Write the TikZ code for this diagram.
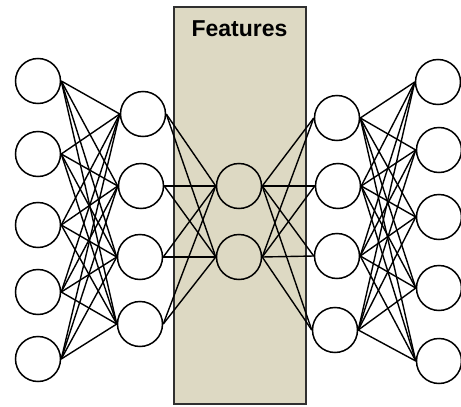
\documentclass[tikz,border=0pt]{standalone}
\usepackage{fontspec}
\setmainfont{Liberation Sans}
\definecolor{featfill}{HTML}{DDD9C3}
\definecolor{featdraw}{HTML}{303030}
\begin{document}
\begin{tikzpicture}[x=1pt,y=-1pt,
  neuron/.style={circle,draw=black,line width=1.5pt,minimum size=45pt,inner sep=0pt,fill=white},
  midneuron/.style={neuron,fill=none},
  link/.style={draw=black,line width=1.4pt},
  featbox/.style={draw=featdraw,fill=featfill,line width=1.5pt}]
\useasboundingbox (0,0) rectangle (461,407);
\path[featbox] (174,7) rectangle (306,404);
\node[font=\bfseries\fontsize{23}{26}\selectfont,inner sep=0pt] (title) at (239.5,29) {Features};
% layers
\node[neuron] (a1) at (38,81) {};
\node[neuron] (a2) at (38,154) {};
\node[neuron] (a3) at (38,225) {};
\node[neuron] (a4) at (38,292) {};
\node[neuron] (a5) at (38,359) {};
\node[neuron] (b1) at (143,114) {};
\node[neuron] (b2) at (141,186) {};
\node[neuron] (b3) at (140,257) {};
\node[neuron] (b4) at (140,324) {};
\node[midneuron] (m1) at (239,186) {};
\node[midneuron] (m2) at (239,257) {};
\node[neuron] (c1) at (337,118) {};
\node[neuron] (c2) at (338,186) {};
\node[neuron] (c3) at (337,256) {};
\node[neuron] (c4) at (335,330) {};
\node[neuron] (d1) at (438,82) {};
\node[neuron] (d2) at (439,150) {};
\node[neuron] (d3) at (439,217) {};
\node[neuron] (d4) at (439,288) {};
\node[neuron] (d5) at (439,361) {};
% connections
\foreach \i in {1,...,5}{\foreach \j in {1,...,4}{\draw[link] (a\i.east) -- (b\j.west);}}
\foreach \i in {1,...,4}{\foreach \j in {1,2}{\draw[link] (b\i.east) -- (m\j.west);}}
\foreach \i in {1,2}{\foreach \j in {1,...,4}{\draw[link] (m\i.east) -- (c\j.west);}}
\foreach \i in {1,...,4}{\foreach \j in {1,...,5}{\draw[link] (c\i.east) -- (d\j.west);}}
\end{tikzpicture}
\end{document}
